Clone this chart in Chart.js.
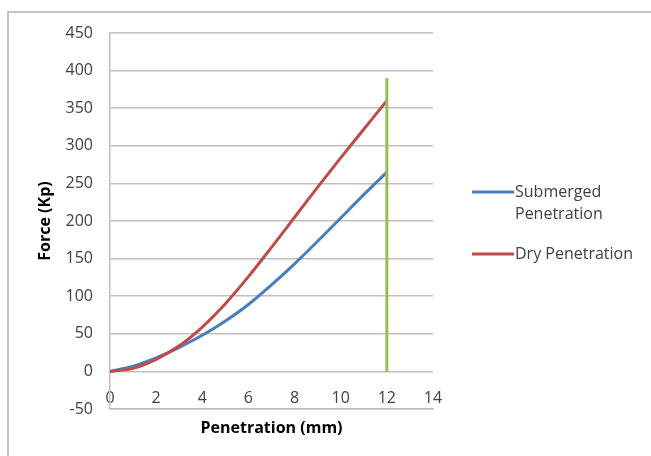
<!DOCTYPE html>
<html>
<head>
<meta charset="utf-8">
<script src="https://cdn.jsdelivr.net/npm/chart.js@4.4.0/dist/chart.umd.min.js"></script>
<style>
  body { margin: 0; background: #fff; }
  .frame { position: absolute; left: 7px; top: 11px; width: 700px; height: 500px; border: 2px solid #c4c4c4; }
  #force { position: absolute; left: 0; top: 0; }
</style>
</head>
<body>
<div class="frame"></div>
<canvas id="force" width="651" height="456"></canvas>
<script>
const penetrationMm = [0, 1, 2, 3, 4, 5, 6, 7, 8, 9, 10, 11, 12];
const submergedKp = [0, 7, 18, 32, 48, 67, 89, 115, 143, 173, 204, 235, 265];
const dryKp = [0, 4, 16, 34, 59, 90, 126, 165, 205, 245, 284, 322, 360];
const limitX = [12, 12];
const limitY = [0, 390];
const seriesNames = ['Submerged Penetration', 'Dry Penetration'];

const toPoints = (xs, ys) => xs.map((x, i) => ({ x: x, y: ys[i] }));

Chart.defaults.font.family = "'Open Sans', sans-serif";
Chart.defaults.font.size = 16;
Chart.defaults.color = '#404040';

// legend drawn by hand so the first label can wrap like the original
const sideLegend = {
    id: 'sideLegend',
    afterDraw(chart) {
        const c = chart.ctx;
        const rows = [
            { ds: chart.data.datasets[0], lines: ['Submerged', 'Penetration'], y: 192 },
            { ds: chart.data.datasets[1], lines: ['Dry Penetration'], y: 254 }
        ];
        c.save();
        c.font = "16px 'Open Sans', sans-serif";
        c.textBaseline = 'middle';
        c.fillStyle = '#404040';
        rows.forEach(r => {
            c.strokeStyle = r.ds.borderColor;
            c.lineWidth = 3;
            c.beginPath();
            c.moveTo(472, r.y);
            c.lineTo(514, r.y);
            c.stroke();
            r.lines.forEach((t, i) => c.fillText(t, 515, r.y + i * 22));
        });
        c.restore();
    }
};

new Chart(document.getElementById('force'), {
    type: 'scatter',
    data: {
        datasets: [{
            label: seriesNames[0],
            data: toPoints(penetrationMm, submergedKp),
            borderColor: '#4a7ebb',
            borderWidth: 3,
            showLine: true,
            pointRadius: 0,
            cubicInterpolationMode: 'monotone',
            order: 2
        }, {
            label: seriesNames[1],
            data: toPoints(penetrationMm, dryKp),
            borderColor: '#be4b48',
            borderWidth: 3,
            showLine: true,
            pointRadius: 0,
            cubicInterpolationMode: 'monotone',
            order: 1
        }, {
            label: 'Limit',
            data: toPoints(limitX, limitY),
            borderColor: '#9bbb59',
            borderWidth: 3,
            showLine: true,
            pointRadius: 0,
            order: 0
        }]
    },
    options: {
        responsive: false,
        animation: false,
        layout: { padding: { left: 0, right: 218, top: 33, bottom: 0 } },
        plugins: {
            legend: { display: false },
            tooltip: { enabled: false }
        },
        scales: {
            x: {
                type: 'linear',
                min: 0,
                max: 14,
                // mirror keeps the labels from being clipped, they sit above the axis line
                ticks: { stepSize: 2, mirror: true, padding: 1 },
                grid: { display: false, drawTicks: false },
                border: { display: true, color: '#bfbfbf', width: 1.5 },
                title: { display: true, text: 'Penetration (mm)', font: { weight: 'bold' }, color: '#000', padding: { top: 0, bottom: 18 } },
                afterFit: (scale) => { scale.height = 47; }
            },
            y: {
                min: -50,
                max: 450,
                ticks: { stepSize: 50, padding: 17 },
                grid: { color: '#bfbfbf', lineWidth: 1.5, drawTicks: false },
                border: { display: true, color: '#bfbfbf', width: 1.5 },
                title: { display: true, text: 'Force (Kp)', font: { weight: 'bold' }, color: '#000', padding: { top: 36, bottom: 0 } },
                afterFit: (scale) => { scale.width = 110; }
            }
        }
    },
    plugins: [sideLegend]
});
</script>
</body>
</html>
